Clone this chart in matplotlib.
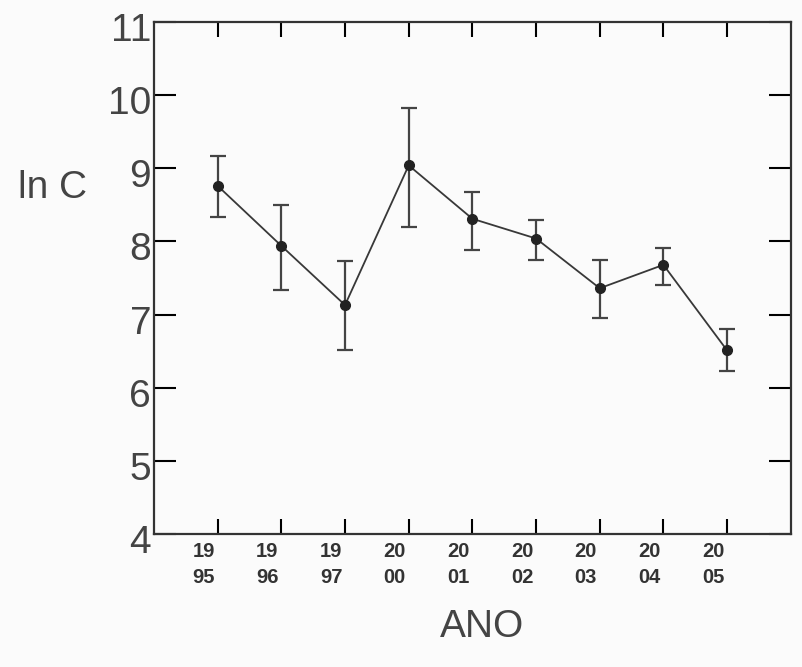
import matplotlib
matplotlib.use("Agg")
import matplotlib.pyplot as plt
import matplotlib.transforms as mtransforms

years = ["19\n95", "19\n96", "19\n97", "20\n00", "20\n01", "20\n02", "20\n03", "20\n04", "20\n05"]
means = [8.76, 7.94, 7.13, 9.04, 8.31, 8.04, 7.36, 7.68, 6.51]
upper = [9.17, 8.50, 7.73, 9.82, 8.68, 8.29, 7.75, 7.91, 6.80]
lower = [8.34, 7.33, 6.52, 8.20, 7.88, 7.75, 6.95, 7.40, 6.23]
y_ticks = [4, 5, 6, 7, 8, 9, 10, 11]

plt.rcParams['font.family'] = ['Liberation Sans', 'DejaVu Sans']

fig = plt.figure(figsize=(8.02, 6.67), dpi=100, facecolor='#fbfbfb')
ax = fig.add_axes([0.192, 0.1994, 0.794, 0.7676])
ax.set_facecolor('#fbfbfb')

x = list(range(1, len(years) + 1))
yerr = [[m - l for m, l in zip(means, lower)], [u - m for m, u in zip(means, upper)]]
ax.errorbar(x, means, yerr=yerr, fmt='o-', color='#383838', ecolor='#444444',
            elinewidth=1.6, capsize=6, capthick=1.6, markersize=7, linewidth=1.3,
            markerfacecolor='#222222', markeredgecolor='#222222')

ax.set_xlim(0, 10)
ax.set_ylim(4, 11)
ax.set_yticks(y_ticks)
ax.set_yticklabels([str(v) for v in y_ticks], fontsize=28, color='#444444')
ax.set_xticks(x)
ax.set_xticklabels(years, fontsize=14.5, color='#333333', linespacing=1.45)

ax.tick_params(axis='y', direction='in', length=16, width=1.5, left=True, right=True, pad=2)
ax.tick_params(axis='x', direction='in', length=11, width=1.5, top=True, bottom=True, pad=6)

xoff = mtransforms.ScaledTranslation(-14 / 100, 0, fig.dpi_scale_trans)
for lab in ax.get_xticklabels():
    lab.set_transform(lab.get_transform() + xoff)
    lab.set_fontweight('bold')
yoff = mtransforms.ScaledTranslation(0, -5 / 100, fig.dpi_scale_trans)
for lab in ax.get_yticklabels():
    lab.set_transform(lab.get_transform() + yoff)

for s in ax.spines.values():
    s.set_linewidth(1.6)
    s.set_color('#333333')

fig.text(0.601, 0.060, "ANO", fontsize=28, color='#444444', ha='center', va='center')
fig.text(0.066, 0.718, "ln C", fontsize=28, color='#444444', ha='center', va='center')

fig.savefig("out.png", dpi=100, facecolor=fig.get_facecolor())
